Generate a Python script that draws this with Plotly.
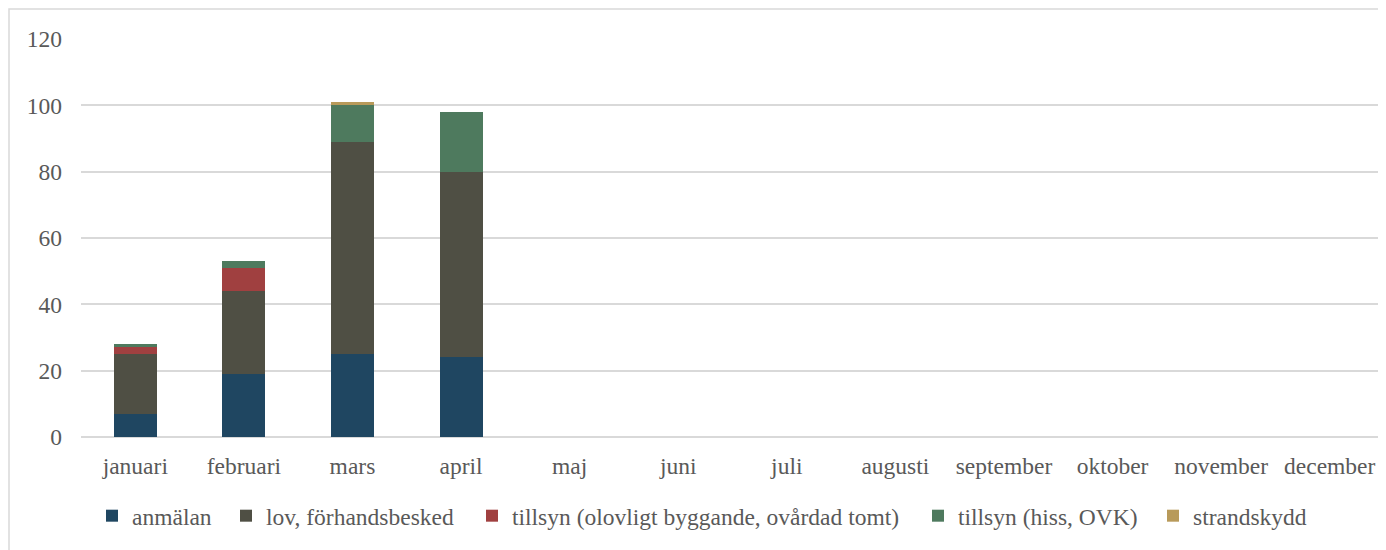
import plotly.graph_objects as go

months = ["januari", "februari", "mars", "april", "maj", "juni", "juli",
          "augusti", "september", "oktober", "november", "december"]
anmalan = [7, 19, 25, 24, None, None, None, None, None, None, None, None]
lov = [18, 25, 64, 56, None, None, None, None, None, None, None, None]
tillsyn_olov = [2, 7, 0, 0, None, None, None, None, None, None, None, None]
tillsyn_hiss = [1, 2, 11, 18, None, None, None, None, None, None, None, None]
strandskydd = [0, 0, 1, 0, None, None, None, None, None, None, None, None]

series = [
    ("anmälan", anmalan, "#1F4661"),
    ("lov, förhandsbesked", lov, "#4F4F44"),
    ("tillsyn (olovligt byggande, ovårdad tomt)", tillsyn_olov, "#A04040"),
    ("tillsyn (hiss, OVK)", tillsyn_hiss, "#4E7A5E"),
    ("strandskydd", strandskydd, "#B89A5A"),
]

L, R, T, B = 73, 10, 31, 121
W, H = 1386, 550
PW = W - L - R
PH = H - T - B

legend_left_px = [84, 218, 464, 910, 1145]
legend_names = ["legend", "legend2", "legend3", "legend4", "legend5"]

FONT = "Liberation Serif, Times New Roman, serif"
FS = 23.5
GREY = "#595959"

fig = go.Figure()
for (name, vals, color), lg in zip(series, legend_names):
    fig.add_trace(go.Bar(x=months, y=vals, name=name, marker_color=color,
                         marker_line_width=0, legend=lg, showlegend=True))

legends = {}
for lg, px in zip(legend_names, legend_left_px):
    legends[lg] = dict(orientation="h", x=(px - L) / PW, xanchor="left",
                       y=-0.143, yanchor="top", itemwidth=30,
                       font=dict(family=FONT, size=FS, color=GREY),
                       bgcolor="rgba(0,0,0,0)")

font = dict(family=FONT, size=FS, color=GREY)
fig.update_layout(
    barmode="stack",
    bargap=0.604,
    width=W, height=H,
    showlegend=True,
    paper_bgcolor="white", plot_bgcolor="white",
    font=font,
    margin=dict(l=L, r=R, t=T, b=B),
    xaxis=dict(showgrid=False, showline=False, ticks="", tickfont=font,
               ticklabelstandoff=12),
    yaxis=dict(range=[0, 120], dtick=20, showgrid=True, gridcolor="#D9D9D9",
               gridwidth=1.5, zeroline=True, zerolinecolor="#D9D9D9", zerolinewidth=1.5,
               showline=False, ticks="", tickfont=font, ticklabelstandoff=18),
    shapes=[dict(type="rect", xref="paper", yref="paper",
                 x0=(-L + 1) / PW, x1=1 + (R - 1) / PW,
                 y0=-(B - 1) / PH, y1=1 + (T - 1) / PH,
                 line=dict(color="#D9D9D9", width=1.5))],
    **legends,
)
fig.write_html("out.html")
